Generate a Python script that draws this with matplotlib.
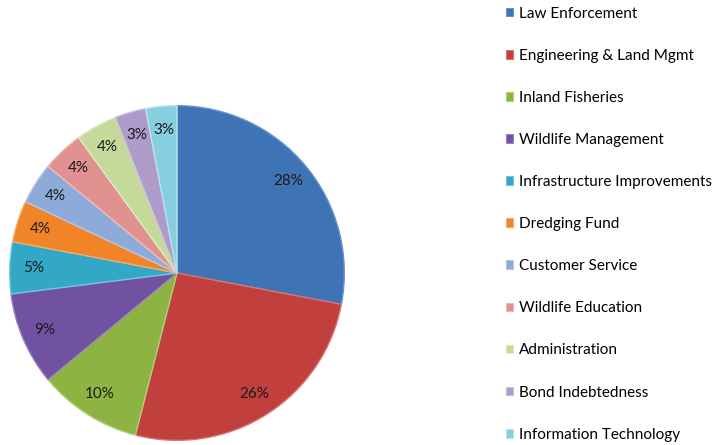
import matplotlib.pyplot as plt
from matplotlib.patches import Patch

categories = ['Law Enforcement', 'Engineering & Land Mgmt', 'Inland Fisheries',
              'Wildlife Management', 'Infrastructure Improvements', 'Dredging Fund',
              'Customer Service', 'Wildlife Education', 'Administration',
              'Bond Indebtedness', 'Information Technology']
shares = [28, 26, 10, 9, 5, 4, 4, 4, 4, 3, 3]
colors = ['#3e73b6', '#c1403d', '#8db443', '#7152a0', '#33a7c6', '#f08426',
          '#8eaad8', '#df9290', '#c5da9a', '#ae9bca', '#86cee0']
edges = ['#6a95cc', '#d97471', '#b0cf78', '#9a80c0', '#74c6dc', '#f6ab66',
         '#b5c8e8', '#efbbb9', '#dcebc0', '#cdc0df', '#b8e3ee']

plt.rcParams['font.family'] = ['Lato', 'DejaVu Sans']

fig = plt.figure(figsize=(7.16, 4.45), dpi=100)
ax = fig.add_axes([8 / 716, 3 / 445, 338 / 716, 338 / 445])

wedges, texts, autotexts = ax.pie(
    shares, colors=colors, startangle=90, counterclock=False, radius=1.0,
    autopct='%d%%', pctdistance=0.86,
    wedgeprops=dict(linewidth=1.0),
    textprops=dict(fontsize=11, color='#1a1a1a'))
for w, ec in zip(wedges, edges):
    w.set_edgecolor(ec)

ax.set_xlim(-1.01, 1.01)
ax.set_ylim(-1.01, 1.01)
ax.set_aspect('equal')
ax.axis('off')

handles = [Patch(facecolor=c, edgecolor=e, linewidth=0.8) for c, e in zip(colors, edges)]
fig.legend(handles, categories, loc='upper left', bbox_to_anchor=(504 / 716, 1 - 5 / 445),
           frameon=False, fontsize=11, labelspacing=1.84,
           handlelength=0.5, handleheight=0.5, handletextpad=0.35,
           borderaxespad=0, borderpad=0.1)

fig.savefig('out.png', dpi=100)
